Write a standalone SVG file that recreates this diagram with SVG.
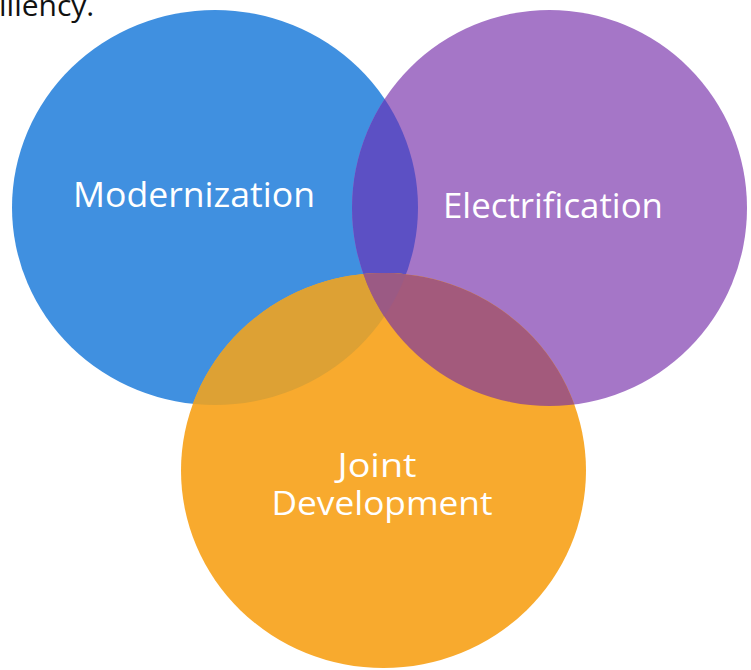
<svg xmlns="http://www.w3.org/2000/svg" width="751" height="670" viewBox="0 0 751 670">
<style>
.lbl{font-family:"Open Sans","Noto Sans","Liberation Sans",sans-serif;fill:#ffffff;text-anchor:middle;font-size:35px}
.jd{font-size:33px}
.top{font-family:"Open Sans","Noto Sans","Liberation Sans",sans-serif;fill:#111111;font-size:30px}
</style>
<defs>
<clipPath id="cBlue"><ellipse cx="215" cy="207.5" rx="203" ry="197.5"/></clipPath>
<clipPath id="cPurple"><ellipse cx="549.5" cy="208" rx="197.5" ry="198"/></clipPath>
<clipPath id="cBP"><ellipse cx="549.5" cy="208" rx="197.5" ry="198" clip-path="url(#cBlue)"/></clipPath>
</defs>
<rect width="751" height="670" fill="#ffffff"/>
<text class="top" x="-1" y="16">iliency.</text>
<g id="modernization">
<ellipse cx="215" cy="207.5" rx="203" ry="197.5" fill="#4090e0"/>
</g>
<g id="electrification">
<ellipse cx="549.5" cy="208" rx="197.5" ry="198" fill="#a576c7"/>
<ellipse cx="549.5" cy="208" rx="197.5" ry="198" fill="#5c50c4" clip-path="url(#cBlue)"/>
</g>
<g id="joint-development">
<ellipse cx="383.5" cy="470.5" rx="202.5" ry="197.5" fill="#f8aa2e"/>
<ellipse cx="383.5" cy="470.5" rx="202.5" ry="197.5" fill="#dda134" clip-path="url(#cBlue)"/>
<ellipse cx="383.5" cy="470.5" rx="202.5" ry="197.5" fill="#a35a7c" clip-path="url(#cPurple)"/>
<ellipse cx="383.5" cy="470.5" rx="202.5" ry="197.5" fill="#9b5a84" clip-path="url(#cBP)"/>
</g>
<g id="labels">
<text class="lbl" x="194" y="207" textLength="242" lengthAdjust="spacingAndGlyphs">Modernization</text>
<text class="lbl" x="553" y="218" textLength="220" lengthAdjust="spacingAndGlyphs">Electrification</text>
<text class="lbl jd" x="377" y="477" textLength="79" lengthAdjust="spacingAndGlyphs">Joint</text>
<text class="lbl jd" x="382" y="515" textLength="221" lengthAdjust="spacingAndGlyphs">Development</text>
</g>
<g id="connectors"/>
</svg>
